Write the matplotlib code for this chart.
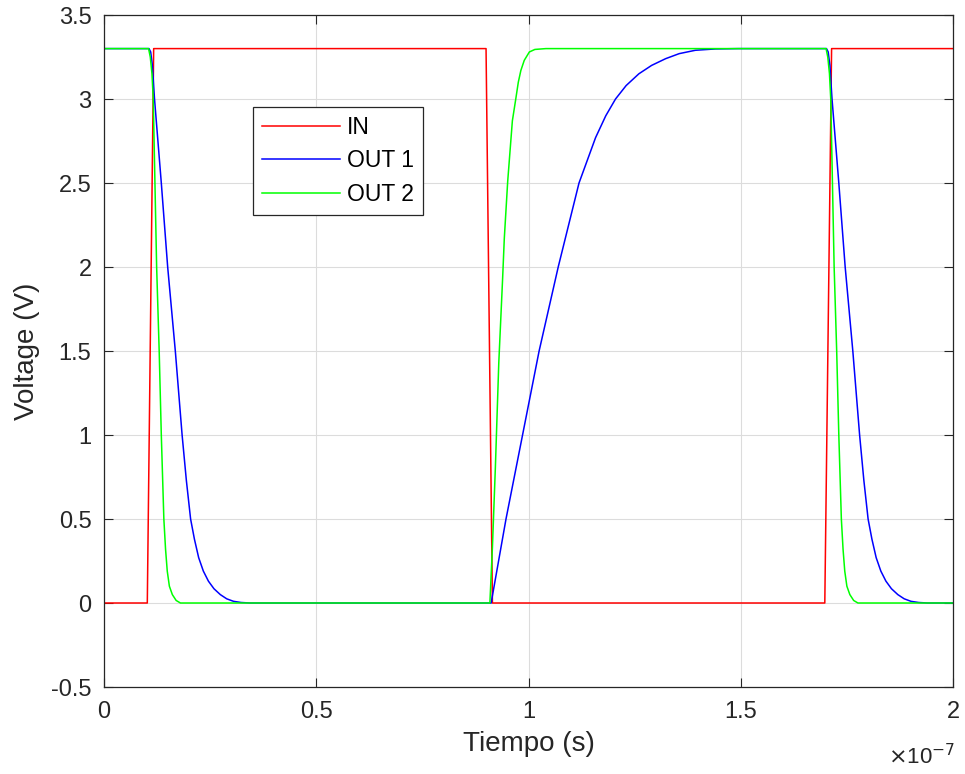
import numpy as np
import matplotlib.pyplot as plt

plt.rcParams['font.family'] = ['Liberation Sans', 'DejaVu Sans']

# time in ns, voltages in V
t_in = [0, 10.2, 11.7, 90.0, 91.5, 169.8, 171.4, 200]
v_in = [0, 0, 3.3, 3.3, 0, 0, 3.3, 3.3]

t_out1 = [0, 10.6, 11.0, 11.4, 11.9, 13.5, 15.0, 15.9, 16.8, 18.4, 19.4, 20.4, 21.3, 22.3, 23.4, 24.6,
          25.9, 27.4, 28.9, 30.5, 32.3, 34.4,
          91.2, 94.7, 98.6, 102.5, 107.0, 111.9, 115.8, 118.2, 120.5, 123.0, 126.0, 129.0, 132.3,
          135.5, 139.3, 144.0, 149.5,
          170.2, 170.6, 171.0, 171.5, 173.1, 174.6, 175.5, 176.4, 178.0, 179.0, 180.0, 180.9, 181.9,
          183.0, 184.2, 185.5, 187.0, 188.5, 190.1, 191.9, 194.0, 200]
v_out1 = [3.3, 3.3, 3.28, 3.2, 3.0, 2.5, 2.0, 1.75, 1.5, 1.0, 0.73, 0.5, 0.38, 0.27, 0.19, 0.13,
          0.085, 0.05, 0.025, 0.01, 0.003, 0.0,
          0.0, 0.5, 1.0, 1.5, 2.0, 2.5, 2.77, 2.9, 3.0, 3.08, 3.15, 3.2, 3.24,
          3.27, 3.29, 3.298, 3.3,
          3.3, 3.28, 3.2, 3.0, 2.5, 2.0, 1.75, 1.5, 1.0, 0.73, 0.5, 0.38, 0.27,
          0.19, 0.13, 0.085, 0.05, 0.025, 0.01, 0.003, 0.0, 0.0]

t_out2 = [0, 10.5, 10.9, 11.3, 11.6, 12.0, 12.4, 12.7, 13.0, 13.5, 14.1, 14.5, 14.9, 15.4, 16.1, 17.0, 18.0,
          90.9, 91.5, 92.2, 93.0, 93.9, 94.3, 95.1, 96.2, 97.0, 97.6, 98.2, 99.0, 100.2, 101.5, 104.1,
          170.1, 170.5, 170.9, 171.2, 171.6, 172.0, 172.3, 172.6, 173.1, 173.7, 174.1, 174.5, 175.0,
          175.7, 176.6, 177.6, 200]
v_out2 = [3.3, 3.3, 3.25, 3.15, 3.0, 2.5, 2.0, 1.75, 1.5, 1.0, 0.5, 0.32, 0.19, 0.1, 0.05, 0.015, 0.0,
          0.0, 0.33, 0.81, 1.43, 1.93, 2.17, 2.51, 2.87, 3.0, 3.1, 3.17, 3.23, 3.28, 3.295, 3.3,
          3.3, 3.25, 3.15, 3.0, 2.5, 2.0, 1.75, 1.5, 1.0, 0.5, 0.32, 0.19, 0.1,
          0.05, 0.015, 0.0, 0.0]

xticks = [0, 0.5e-7, 1e-7, 1.5e-7, 2e-7]
xticklabels = ['0', '0.5', '1', '1.5', '2']
yticks = [-0.5, 0, 0.5, 1, 1.5, 2, 2.5, 3, 3.5]
yticklabels = ['-0.5', '0', '0.5', '1', '1.5', '2', '2.5', '3', '3.5']

fig = plt.figure(figsize=(9.65, 7.74), dpi=100)
ax = fig.add_axes([104/965, 1-687/774, 849/965, 672/774])

ax.plot(np.array(t_in)*1e-9, v_in, color='#ff0000', lw=1.1, label='IN')
ax.plot(np.array(t_out1)*1e-9, v_out1, color='#0000ff', lw=1.1, label='OUT 1')
ax.plot(np.array(t_out2)*1e-9, v_out2, color='#00ff00', lw=1.1, label='OUT 2')

ax.set_xlim(0, 2e-7)
ax.set_ylim(-0.5, 3.5)
ax.set_xticks(xticks)
ax.set_xticklabels(xticklabels)
ax.set_yticks(yticks)
ax.set_yticklabels(yticklabels)
ax.grid(True, color='#dcdcdc', lw=0.8)
ax.set_axisbelow(True)
ax.tick_params(direction='in', top=True, right=True, length=6.5, width=0.8,
               labelsize=17, colors='#262626')
ax.tick_params(axis='x', pad=10)
ax.tick_params(axis='y', pad=9)
for s in ax.spines.values():
    s.set_color('#262626')
    s.set_linewidth(0.9)

ax.set_xlabel('Tiempo (s)', fontsize=20, color='#262626', labelpad=6)
ax.set_ylabel('Voltage (V)', fontsize=20, color='#262626', labelpad=8)
fig.text(955/965, 1-757/774, r'$\times$10$^{-7}$', ha='right', va='center',
         fontsize=16, color='#262626')

leg = ax.legend(loc='upper left', bbox_to_anchor=(149/849, 580/672), borderaxespad=0,
                fancybox=False, framealpha=1, edgecolor='#262626', fontsize=16.5,
                handlelength=3.4, handletextpad=0.3, labelspacing=0.45, borderpad=0.4)
leg.get_frame().set_linewidth(0.9)

fig.savefig('out.png', dpi=100)
